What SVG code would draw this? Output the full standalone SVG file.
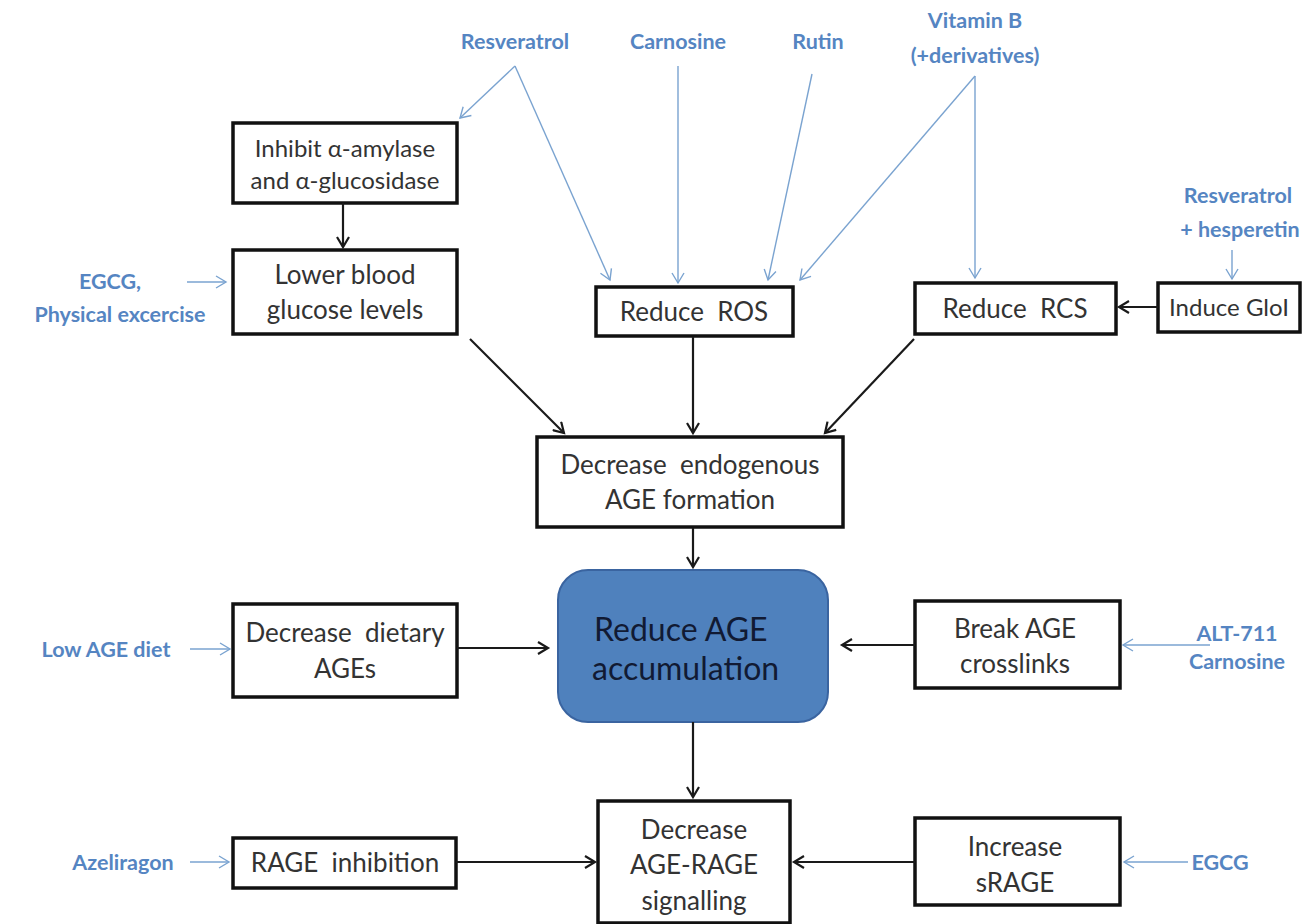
<svg xmlns="http://www.w3.org/2000/svg" width="1314" height="924" viewBox="0 0 1314 924">
<defs>
<marker id="ab" markerWidth="14" markerHeight="14" refX="11" refY="7" orient="auto" markerUnits="userSpaceOnUse"><path d="M1,1 L11,7 L1,13" fill="none" stroke="#1a1a1a" stroke-width="2.2"/></marker>
<marker id="al" markerWidth="14" markerHeight="14" refX="11" refY="7" orient="auto" markerUnits="userSpaceOnUse"><path d="M1,1 L11,7 L1,13" fill="none" stroke="#7aa3d0" stroke-width="1.4"/></marker>
</defs>
<style>
.box{fill:#fff;stroke:#111;stroke-width:3.5}
.t{font-family:Lato,"Open Sans",sans-serif;font-size:26px;fill:#333;text-anchor:middle;white-space:pre}
.s{font-size:24px}
.b{font-family:Lato,"Open Sans",sans-serif;font-size:21.5px;font-weight:bold;fill:#5585c2;text-anchor:middle}
.k{stroke:#1a1a1a;stroke-width:2.2;fill:none;marker-end:url(#ab)}
.l{stroke:#7aa3d0;stroke-width:1.4;fill:none;marker-end:url(#al)}
</style>
<rect width="1314" height="924" fill="#fff"/>
<g id="labels">
<text class="b" x="515" y="49">Resveratrol</text>
<text class="b" x="678" y="49">Carnosine</text>
<text class="b" x="818" y="49">Rutin</text>
<text class="b" x="975" y="28">Vitamin B</text>
<text class="b" x="975" y="63">(+derivatives)</text>
<text class="b" x="1238" y="203">Resveratrol</text>
<text class="b" x="1240" y="237">+ hesperetin</text>
<text class="b" x="110" y="289">EGCG,</text>
<text class="b" x="120" y="322">Physical excercise</text>
<text class="b" x="106" y="657">Low AGE diet</text>
<text class="b" x="1237" y="641">ALT-711</text>
<text class="b" x="1237" y="669">Carnosine</text>
<text class="b" x="123" y="870">Azeliragon</text>
<text class="b" x="1220" y="870">EGCG</text>
</g>
<g id="n-inhibit"><rect class="box" x="233" y="123" width="224" height="80"/><text class="t s" x="345" y="157">Inhibit α-amylase</text><text class="t s" x="345" y="189">and α-glucosidase</text></g>
<g id="n-lower"><rect class="box" x="233" y="250" width="224" height="84"/><text class="t" x="345" y="284">Lower blood</text><text class="t" x="345" y="319">glucose levels</text></g>
<g id="n-ros"><rect class="box" x="596" y="287" width="197" height="49"/><text class="t" x="694" y="321">Reduce  ROS</text></g>
<g id="n-rcs"><rect class="box" x="915" y="283" width="201" height="51"/><text class="t" x="1015" y="318">Reduce  RCS</text></g>
<g id="n-gloi"><rect class="box" x="1158" y="283" width="142" height="49"/><text class="t s" x="1229" y="316">Induce GloI</text></g>
<g id="n-endo"><rect class="box" x="537" y="437" width="306" height="90"/><text class="t" x="690" y="474">Decrease  endogenous</text><text class="t" x="690" y="509">AGE formation</text></g>
<g id="n-accum"><rect x="558" y="570" width="270" height="152" rx="30" fill="#4f81bd" stroke="#3a64a0" stroke-width="2"/><text x="594" y="641" font-family="Lato,'Open Sans',sans-serif" font-size="32" fill="#111a33">Reduce AGE</text><text x="592" y="680" font-family="Lato,'Open Sans',sans-serif" font-size="32" fill="#111a33">accumulation</text></g>
<g id="n-diet"><rect class="box" x="233" y="604" width="224" height="93"/><text class="t" x="345" y="642">Decrease  dietary</text><text class="t" x="345" y="678">AGEs</text></g>
<g id="n-break"><rect class="box" x="915" y="601" width="205" height="87"/><text class="t" x="1015" y="638">Break AGE</text><text class="t" x="1015" y="673">crosslinks</text></g>
<g id="n-rage"><rect class="box" x="233" y="838" width="223" height="50"/><text class="t" x="345" y="872">RAGE  inhibition</text></g>
<g id="n-agerage"><rect class="box" x="598" y="801" width="192" height="122"/><text class="t" x="694" y="839">Decrease</text><text class="t" x="694" y="874">AGE-RAGE</text><text class="t" x="694" y="910">signalling</text></g>
<g id="n-srage"><rect class="box" x="915" y="818" width="205" height="87"/><text class="t" x="1015" y="856">Increase</text><text class="t" x="1015" y="892">sRAGE</text></g>
<g id="connectors">
<path class="l" d="M515,66 L460,118"/>
<path class="l" d="M515,66 L610,280"/>
<path class="l" d="M678,66 L678,283"/>
<path class="l" d="M812,74 L768,280"/>
<path class="l" d="M975,76 L800,280"/>
<path class="l" d="M975,76 L975,278"/>
<path class="l" d="M1232,250 L1232,279"/>
<path class="l" d="M187,282 L226,282"/>
<path class="l" d="M190,649 L230,649"/>
<path class="l" d="M1210,645 L1123,645"/>
<path class="l" d="M190,862 L229,862"/>
<path class="l" d="M1188,862 L1124,862"/>
<path class="k" d="M343,203 L343,247"/>
<path class="k" d="M1158,307 L1119,307"/>
<path class="k" d="M470,339 L564,433"/>
<path class="k" d="M693,337 L693,433"/>
<path class="k" d="M914,339 L825,433"/>
<path class="k" d="M693,528 L693,567"/>
<path class="k" d="M457,648 L548,648"/>
<path class="k" d="M915,645 L842,645"/>
<path class="k" d="M693,722 L693,797"/>
<path class="k" d="M456,862 L595,862"/>
<path class="k" d="M915,862 L794,862"/>
</g>
</svg>
